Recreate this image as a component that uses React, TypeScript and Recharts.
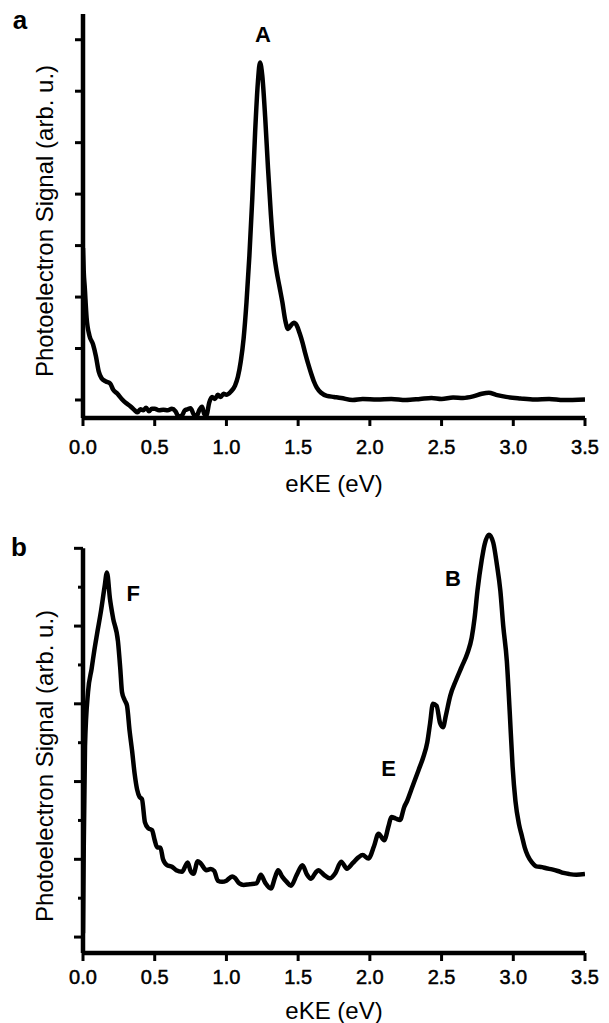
import React from 'react';
import { LineChart, Line, XAxis, YAxis, ReferenceDot, ReferenceLine } from 'recharts';

// ---------- data ----------
const eKeA = [0.0, 0.005, 0.012, 0.025, 0.045, 0.07, 0.09, 0.11, 0.13, 0.16, 0.19, 0.21, 0.24, 0.27, 0.3, 0.33, 0.36, 0.38, 0.4, 0.42, 0.44, 0.46, 0.48, 0.5, 0.53, 0.56, 0.59, 0.62, 0.645, 0.665, 0.69, 0.71, 0.73, 0.75, 0.77, 0.79, 0.81, 0.83, 0.845, 0.86, 0.88, 0.9, 0.92, 0.94, 0.96, 0.98, 1.0, 1.03, 1.06, 1.08, 1.1, 1.12, 1.14, 1.16, 1.18, 1.2, 1.22, 1.234, 1.25, 1.27, 1.29, 1.31, 1.33, 1.35, 1.37, 1.39, 1.41, 1.43, 1.45, 1.47, 1.49, 1.51, 1.53, 1.55, 1.57, 1.59, 1.61, 1.63, 1.66, 1.7, 1.75, 1.8, 1.88, 1.95, 2.05, 2.15, 2.25, 2.35, 2.43, 2.5, 2.58, 2.65, 2.72, 2.78, 2.83, 2.88, 2.95, 3.05, 3.15, 3.25, 3.35, 3.5];
const signalA = [2.95, 2.5, 2.2, 1.6, 1.25, 1.08, 0.85, 0.55, 0.42, 0.36, 0.32, 0.2, 0.12, 0.02, -0.06, -0.12, -0.2, -0.24, -0.18, -0.2, -0.15, -0.22, -0.17, -0.17, -0.2, -0.19, -0.2, -0.17, -0.22, -0.32, -0.3, -0.2, -0.18, -0.16, -0.27, -0.33, -0.2, -0.13, -0.27, -0.3, -0.05, 0.06, 0.02, 0.1, 0.06, 0.12, 0.1, 0.16, 0.28, 0.45, 0.75, 1.2, 1.9, 2.8, 3.9, 5.2, 6.2, 6.56, 6.3, 5.5, 4.5, 3.6, 2.9, 2.5, 2.2, 1.9, 1.55, 1.38, 1.45, 1.5, 1.45, 1.3, 1.12, 0.9, 0.7, 0.52, 0.36, 0.24, 0.14, 0.08, 0.06, 0.04, 0.0, 0.02, 0.01, 0.02, 0.0, 0.02, 0.04, 0.02, 0.05, 0.04, 0.07, 0.12, 0.14, 0.1, 0.06, 0.03, 0.01, 0.02, 0.0, 0.01];

const eKeB = [0.0, 0.005, 0.014, 0.035, 0.06, 0.08, 0.098, 0.126, 0.15, 0.167, 0.188, 0.21, 0.244, 0.26, 0.272, 0.29, 0.307, 0.325, 0.342, 0.36, 0.377, 0.395, 0.411, 0.432, 0.455, 0.481, 0.5, 0.516, 0.54, 0.558, 0.585, 0.62, 0.65, 0.69, 0.73, 0.75, 0.77, 0.8, 0.82, 0.86, 0.89, 0.915, 0.94, 0.97, 1.0, 1.04, 1.06, 1.09, 1.12, 1.16, 1.21, 1.24, 1.27, 1.31, 1.34, 1.36, 1.39, 1.42, 1.45, 1.49, 1.53, 1.56, 1.59, 1.62, 1.64, 1.68, 1.72, 1.76, 1.8, 1.84, 1.88, 1.92, 1.95, 1.99, 2.03, 2.06, 2.1, 2.13, 2.15, 2.18, 2.21, 2.24, 2.26, 2.29, 2.31, 2.34, 2.37, 2.4, 2.42, 2.44, 2.465, 2.49, 2.51, 2.53, 2.56, 2.6, 2.64, 2.68, 2.71, 2.73, 2.75, 2.78, 2.8, 2.83, 2.86, 2.885, 2.91, 2.93, 2.955, 2.975, 2.995, 3.015, 3.04, 3.06, 3.08, 3.1, 3.13, 3.16, 3.2, 3.23, 3.27, 3.31, 3.35, 3.39, 3.44, 3.5];
const signalB = [0.1, 2.2, 4.9, 6.3, 6.9, 7.4, 7.8, 8.4, 9.0, 9.38, 8.7, 8.2, 7.6, 6.9, 6.3, 6.1, 5.95, 5.3, 4.8, 4.2, 3.8, 3.6, 3.55, 2.95, 2.8, 2.75, 2.49, 2.31, 2.3, 2.0, 1.85, 1.81, 1.72, 1.68, 1.92, 1.7, 1.63, 1.95, 1.9, 1.72, 1.75, 1.7, 1.45, 1.42, 1.45, 1.56, 1.52, 1.38, 1.34, 1.36, 1.38, 1.6, 1.4, 1.25, 1.55, 1.72, 1.55, 1.42, 1.32, 1.6, 1.85, 1.62, 1.5, 1.65, 1.72, 1.6, 1.51, 1.65, 1.94, 1.76, 1.9, 2.05, 2.11, 2.02, 2.35, 2.66, 2.49, 2.85, 3.09, 3.05, 3.01, 3.35, 3.5, 3.8, 4.0, 4.3, 4.6, 5.0, 5.5, 6.0, 5.95, 5.5, 5.4, 5.7, 6.2, 6.6, 6.95, 7.3, 7.7, 8.2, 8.9, 9.7, 10.1, 10.35, 10.15, 9.6, 8.9, 8.0, 7.1, 5.8, 4.4, 3.5, 2.9, 2.6, 2.3, 2.1, 1.92, 1.82, 1.8, 1.77, 1.74, 1.7, 1.65, 1.62, 1.6, 1.62];

const xTicks = [0, 0.5, 1.0, 1.5, 2.0, 2.5, 3.0, 3.5];
const yTicksA = [0, 1, 2, 3, 4, 5, 6, 7];
const yTicksB = [0, 1, 2, 3, 4, 5, 6, 7, 8, 9, 10];

const xTitle = 'eKE (eV)';
const yTitle = 'Photoelectron Signal (arb. u.)';

const dataA = eKeA.map((e, i) => ({ e, s: signalA[i] }));
const dataB = eKeB.map((e, i) => ({ e, s: signalB[i] }));

const FONT = '"Liberation Sans", Arial, Helvetica, sans-serif';

const YLabel = (props: any) => {
  const vb = props.viewBox || {};
  const cx = (vb.x ?? 0) + (vb.width ?? 0) / 2;
  const cy = (vb.y ?? 0) + (vb.height ?? 0) / 2 + (props.shift || 0);
  return (
    <text
      x={cx}
      y={cy}
      transform={`rotate(-90, ${cx}, ${cy})`}
      textAnchor="middle"
      dominantBaseline="central"
      fontSize={24}
      fontFamily={FONT}
      fill="#000"
    >
      {yTitle}
    </text>
  );
};

const makeYTick = (alternate: boolean) => (props: any) => {
  const { x, y, payload } = props;
  const len = alternate ? (payload.value % 2 === 0 ? 9 : 5) : 8;
  return <line x1={x - len} y1={y} x2={x} y2={y} stroke="#000" strokeWidth={3} />;
};

const peakLabel = (text: string) => ({
  value: text,
  position: 'center' as const,
  fontSize: 22,
  fontWeight: 'bold',
  fill: '#000',
  fontFamily: FONT,
});

const tickStyle = { fontSize: 20, fill: '#000', stroke: '#000', strokeWidth: 0.5, fontFamily: FONT };

export default function App() {
  return (
    <div style={{ position: 'absolute', left: 0, top: 0, width: 609, height: 1023, background: '#fff', fontFamily: FONT }}>
      <div style={{ position: 'absolute', left: 0, top: 0 }}>
        <LineChart width={609} height={498} data={dataA} margin={{ top: 14, right: 24, bottom: 0, left: 5 }}>
          <XAxis
            dataKey="e"
            type="number"
            domain={[0, 3.5]}
            ticks={xTicks}
            allowDataOverflow
            tickFormatter={(v: number) => v.toFixed(1)}
            height={80}
            tickSize={8}
            tickMargin={14}
            axisLine={{ stroke: '#000', strokeWidth: 4.5 }}
            tickLine={{ stroke: '#000', strokeWidth: 3 }}
            tick={tickStyle}
            label={{ value: xTitle, position: 'insideBottom', offset: 6, fontSize: 24, fill: '#000', fontFamily: FONT }}
          />
          <YAxis
            type="number"
            domain={[-0.35, 7.5]}
            ticks={yTicksA}
            allowDataOverflow
            width={78}
            tickSize={0}
            tickMargin={0}
            tickLine={false}
            tick={makeYTick(false)}
            axisLine={{ stroke: '#000', strokeWidth: 4.5 }}
            label={<YLabel shift={5} />}
          />
          <Line type="monotone" dataKey="s" stroke="#000" strokeWidth={4.5} dot={false} isAnimationActive={false} strokeLinejoin="round" />
          <ReferenceDot x={1.255} y={7.1} r={0} stroke="none" fill="none" label={peakLabel('A')} />
        </LineChart>
      </div>
      <div style={{ position: 'absolute', left: 0, top: 500 }}>
        <LineChart width={609} height={523} data={dataB} margin={{ top: 25, right: 24, bottom: 0, left: 5 }}>
          <XAxis
            dataKey="e"
            type="number"
            domain={[0, 3.5]}
            ticks={xTicks}
            allowDataOverflow
            tickFormatter={(v: number) => v.toFixed(1)}
            height={70}
            tickSize={8}
            tickMargin={9}
            axisLine={{ stroke: '#000', strokeWidth: 4.5 }}
            tickLine={{ stroke: '#000', strokeWidth: 3 }}
            tick={tickStyle}
            label={{ value: xTitle, position: 'insideBottom', offset: 4, fontSize: 24, fill: '#000', fontFamily: FONT }}
          />
          <YAxis
            type="number"
            domain={[-0.41, 10.6]}
            ticks={yTicksB}
            allowDataOverflow
            width={78}
            tickSize={0}
            tickMargin={0}
            tickLine={false}
            tick={makeYTick(true)}
            axisLine={false}
            label={<YLabel shift={27} />}
          />
          <ReferenceLine segment={[{ x: 0, y: -0.41 }, { x: 0, y: 10 }]} stroke="#000" strokeWidth={4.5} />
          <Line type="monotone" dataKey="s" stroke="#000" strokeWidth={4.5} dot={false} isAnimationActive={false} strokeLinejoin="round" />
          <ReferenceDot x={0.35} y={8.84} r={0} stroke="none" fill="none" label={peakLabel('F')} />
          <ReferenceDot x={2.58} y={9.23} r={0} stroke="none" fill="none" label={peakLabel('B')} />
          <ReferenceDot x={2.13} y={4.34} r={0} stroke="none" fill="none" label={peakLabel('E')} />
        </LineChart>
      </div>
      <svg width={609} height={1023} style={{ position: 'absolute', left: 0, top: 0, pointerEvents: 'none' }}>
        <text x={20} y={29} textAnchor="middle" fontSize={26} fontWeight="bold" fontFamily={FONT} fill="#000">a</text>
        <text x={19} y={556} textAnchor="middle" fontSize={26} fontWeight="bold" fontFamily={FONT} fill="#000">b</text>
      </svg>
    </div>
  );
}
